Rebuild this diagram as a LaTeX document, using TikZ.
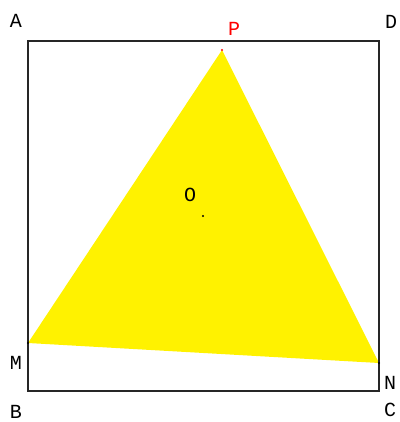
\documentclass[tikz,border=0pt]{standalone}
\usepackage{fontspec}
\setmonofont{Liberation Mono}
\tikzset{
  lbl/.style={font=\fontsize{20}{20}\selectfont\ttfamily, inner sep=0pt},
  side/.style={draw=black!85, line width=1.6pt},
}
\begin{document}
\begin{tikzpicture}[x=1pt, y=-1pt]
  \useasboundingbox (0,0) rectangle (399,422);
  % square corners
  \coordinate (a) at (28,41);
  \coordinate (d) at (379,41);
  \coordinate (c) at (379,391);
  \coordinate (b) at (28,391);
  % triangle vertices
  \coordinate (p) at (222,50);
  \coordinate (m) at (28,343);
  \coordinate (n) at (379,363);
  \fill[yellow] (p) -- (m) -- (n) -- cycle;
  \draw[side] (a) -- (d) -- (c) -- (b) -- cycle;
  \fill[red] (p) circle (1.2);
  \fill[black] (m) circle (1.2);
  \fill[black] (n) circle (1.2);
  \fill[black] (203,216) circle (1.2);
  % labels
  \node[lbl] (la) at (16,21) {A};
  \node[lbl] (ld) at (391,22) {D};
  \node[lbl] (lb) at (16,412) {B};
  \node[lbl] (lc) at (390,410) {C};
  \node[lbl, red] (lp) at (234,29) {P};
  \node[lbl] (lm) at (16,363) {M};
  \node[lbl] (ln) at (390,383) {N};
  \node[lbl] (lo) at (190,195) {O};
\end{tikzpicture}
\end{document}
